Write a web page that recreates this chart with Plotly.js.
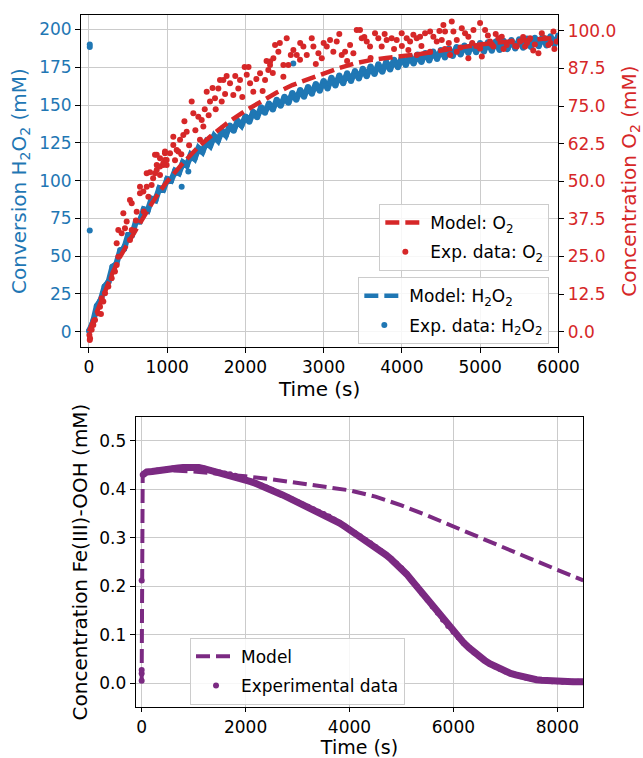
<!DOCTYPE html>
<html><head><meta charset="utf-8">
<script src="https://cdn.plot.ly/plotly-3.0.1.min.js"></script>
<style>html,body{margin:0;padding:0;background:#fff}#chart{width:643px;height:758px}</style>
</head><body><div id="chart"></div><script>
// ---------- Top panel: H2O2 conversion (left axis, mM) ----------
const h2o2ExpT = [0,50,100,150,200,250,300,350,400,450,500,550,600,650,700,750,800,850,900,950,1000,1050,1100,1150,1200,1250,1300,1350,1400,1450,1500,1550,1600,1650,1700,1750,1800,1850,1900,1950,2000,2050,2100,2150,2200,2250,2300,2350,2400,2450,2500,2550,2600,2650,2700,2750,2800,2850,2900,2950,3000,3050,3100,3150,3200,3250,3300,3350,3400,3450,3500,3550,3600,3650,3700,3750,3800,3850,3900,3950,4000,4050,4100,4150,4200,4250,4300,4350,4400,4450,4500,4550,4600,4650,4700,4750,4800,4850,4900,4950,5000,5050,5100,5150,5200,5250,5300,5350,5400,5450,5500,5550,5600,5650,5700,5750,5800,5850,5900,5950,6000];
const h2o2ExpV = [0.5,6,17,21,30,33,43,45,54,55,64,64,73,73,81,80,88,87,95,94,101,100,106.5,105,112,110,117,114.5,121.5,119,125.5,123,129.5,126.5,133,130,136.5,133,139.5,136.5,142.5,139,145.5,142,148.5,145,151,147,153.5,149.5,155.5,151.5,158,153.5,160,155.5,162,157.5,164,159.5,166,161,168,163,169.5,164.5,171,166,172.5,167.5,174,169,175.5,170.5,177,172,178.5,173.5,180,175,181.5,176.5,182.5,177.5,183.5,178.5,184.5,179.5,185.5,180.5,186.5,181.5,187.5,182.5,188.5,183.5,189.5,184.5,190.5,185,191,185.5,191.5,186,192,186.5,192.5,187,193,187.5,193.5,188,194,188.5,194.5,189,195,189.5,195.5,190,196];
// isolated H2O2 points off the main band
const h2o2OutT = [10,10,10,1185,1270,2612];
const h2o2OutV = [188.5,190,67,96,106,177.5];
const h2o2ModelT = [0,100,200,300,400,500,600,700,800,900,1000,1200,1400,1600,1800,2000,2250,2500,2750,3000,3250,3500,3750,4000,4250,4500,4750,5000,5250,5500,5750,6000];
const h2o2ModelV = [0,16,29,41,52,62,71,79,86,93,99,109.5,119,127,134,140,147,153,158,163,167,171,175,178,181,183.5,186,188,189.5,191,192.5,193.5];

// ---------- Top panel: O2 concentration (right axis, mM) ----------
const o2ExpT = [5,10,13,34,55,77,119,141,153,162,183,205,247,290,332,354,375,354,375,418,460,482,524,546,546,610,652,695,738,759,801,844,866,908,950,993,972,908,866,972,1142,844,908,972,866,950,993,1036,1078,1121,1078,1164,1206,1249,1334,1398,1441,1462,1419,1313,1505,1547,1611,1654,1697,1718,1803,1845,1909,1931,2017,2059,2101,2187,2251,2293,2315,738,652,524,439,1675,2315,2357,2379,2421,2485,2485,2528,2549,2613,2656,2698,2741,2784,2848,2869,2933,2976,3040,3082,3124,3167,3231,3274,3338,3380,3423,3465,3487,3551,3593,3657,3699,3742,3806,3870,3934,3998,4062,4083,4147,4190,4105,4190,4233,4297,4361,4361,4403,4446,4510,4531,4552,4616,4638,4659,4702,4702,4766,4808,4850,4850,4915,5000,5000,5022,5064,5128,5170,5234,5277,5341,5405,5469,5512,5576,5640,5746,5789,5831,5874,5938,5980,4550,4750,4950,5150,5300,5450,5600,5700,5900,1480,1530,1580,1620,1740,1760,1870,1960,1990,2040,2140,2220,2270,2350,2440,2580,2700,2900,3000,3200,3300,3520,3600,3780,3900,4000,4250,4480,4600,4900,5100,5200,5550,5680,5950,1220,1280,1360,1100,1180,700,600,780,820];
const o2ExpV = [-1.1,-2.8,-2.2,0.6,2.2,3.9,6.1,8.3,5.9,11.1,10,12.8,15,17.8,20,22.2,24.9,29.4,33.8,32.7,34.4,36.6,30.5,33.8,42.7,39.9,46,46.6,48.2,44.9,48.8,52.7,55.4,54.9,55.4,55.4,57.1,52.1,58.8,59.3,59.9,58.8,57.7,59.9,53.8,56,57.1,59.3,62.1,60.4,64.8,63.8,65.4,66.5,72.6,71.5,70.4,68.2,63.8,76.5,79.8,76.5,77.6,80.9,76.5,83.7,82.6,78.7,80.9,83.7,85.4,82.6,79.8,85.9,83.7,87,89.8,52.7,48.2,43.8,39.4,83.7,88.7,90.9,95.3,93.1,88.7,84.8,97.6,88.7,93.7,92,90.4,94.8,92,97.6,94.8,92.6,90.9,94.8,97,93.1,96.5,92,93.1,95.3,92.6,100.3,100.3,97.6,96.5,94.8,99.2,97.6,94.8,97,97.6,97,99.2,97.6,93.7,98.7,97.6,96.5,92,98.1,99.2,99.8,93.1,98.1,96.5,97,102,99.8,92,103.1,99.8,97,93.1,100.9,99.2,98.1,90.9,100.3,102.6,94.2,91.5,100.3,96.5,94.8,97.6,98.1,95.3,96.5,94.8,96.5,94.8,97.6,92.6,99.2,97.6,95.3,99.8,96.5,94,94.5,95,95.5,94,95,96,95.5,96,74,72,81,74,79,85,85,78,88,88,84,80,90,86,96,92,96,89,96,99,90,98,91,99,94,95,95,100,96,96,98.5,99,98,93.5,94,70,62,67,57,59,40,37,53,51];
const o2ModelT = [0,100,200,300,400,500,600,700,800,900,1000,1200,1400,1600,1800,2000,2200,2400,2600,2800,3000,3200,3400,3600,3800,4000,4250,4500,4750,5000,5250,5500,5750,6000];
const o2ModelV = [0,7,13,19.5,25,29.5,34,38,42.5,46.5,50,56,61.5,66,70,73.5,76.5,79.5,82,84,86,87.7,89.2,90.3,91,91.6,92.4,93.5,94.6,95.5,96.2,96.8,97.3,97.8];

// ---------- Bottom panel: Fe(III)-OOH ----------
const feExpT = [0,0,0,0,20,100,200,300,400,500,600,700,800,900,1000,1100,1200,1300,1400,1500,1600,1700,1800,1900,2000,2100,2200,2300,2400,2500,2600,2700,2800,2900,3000,3100,3200,3300,3400,3500,3600,3700,3800,3900,4000,4100,4200,4300,4400,4500,4600,4700,4800,4900,5000,5100,5200,5300,5400,5500,5600,5700,5800,5900,6000,6100,6200,6300,6400,6500,6600,6700,6800,6900,7000,7100,7200,7300,7400,7500,7600,7700,7800,7900,8000,8100,8200,8300,8400,8500];
const feExpV = [0.005,0.02,0.027,0.212,0.43,0.436,0.437,0.439,0.44,0.442,0.443,0.444,0.445,0.446,0.446,0.445,0.443,0.44,0.437,0.435,0.433,0.431,0.428,0.424,0.42,0.416,0.412,0.408,0.404,0.399,0.394,0.389,0.384,0.379,0.374,0.369,0.364,0.359,0.354,0.349,0.344,0.338,0.331,0.324,0.317,0.31,0.303,0.296,0.289,0.281,0.273,0.265,0.256,0.247,0.237,0.225,0.212,0.199,0.185,0.172,0.158,0.145,0.131,0.118,0.106,0.094,0.083,0.073,0.063,0.055,0.047,0.04,0.034,0.029,0.024,0.02,0.017,0.014,0.011,0.009,0.007,0.006,0.005,0.004,0.004,0.003,0.003,0.003,0.003,0.003];
const feModelT = [0,10,20,100,300,600,1000,1500,2000,2500,3000,3500,4000,4500,5000,5500,6000,6500,7000,7500,8000,8500];
const feModelV = [0,0.2,0.43,0.436,0.438,0.439,0.437,0.433,0.427,0.421,0.414,0.407,0.398,0.385,0.367,0.346,0.323,0.3,0.278,0.256,0.234,0.212];

const BLUE = '#1f77b4', RED = '#d62728', PURPLE = '#7b2a82';
const F = 'DejaVu Sans, Verdana, sans-serif';
const GRID = '#cbcbcb';
const DASH = '14px,6px';

// the continuous part of the Fe(III)-OOH record starts at its 5th sample
const feBandT = feExpT.slice(4), feBandV = feExpV.slice(4);

const traces = [
  {x: h2o2ModelT, y: h2o2ModelV, xaxis:'x', yaxis:'y', mode:'lines', name:'Model: H<sub>2</sub>O<sub>2</sub>',
   line:{color:BLUE, width:4.5, dash:DASH}, legend:'legend2', legendgroup:'a'},
  {x: h2o2ExpT, y: h2o2ExpV, xaxis:'x', yaxis:'y', mode:'lines', showlegend:false, hoverinfo:'skip',
   line:{color:BLUE, width:6}},
  {x: h2o2ExpT, y: h2o2ExpV, xaxis:'x', yaxis:'y', mode:'markers', name:'Exp. data: H<sub>2</sub>O<sub>2</sub>',
   marker:{color:BLUE, size:6}, legend:'legend2', legendgroup:'b'},
  {x: h2o2OutT, y: h2o2OutV, xaxis:'x', yaxis:'y', mode:'markers', showlegend:false,
   marker:{color:BLUE, size:6}},
  {x: o2ModelT, y: o2ModelV, xaxis:'x', yaxis:'y2', mode:'lines', name:'Model: O<sub>2</sub>',
   line:{color:RED, width:4.5, dash:DASH}, legend:'legend', legendgroup:'c'},
  {x: o2ExpT, y: o2ExpV, xaxis:'x', yaxis:'y2', mode:'markers', name:'Exp. data: O<sub>2</sub>',
   marker:{color:RED, size:6}, legend:'legend', legendgroup:'d'},
  {x: feBandT, y: feBandV, xaxis:'x2', yaxis:'y3', mode:'lines', showlegend:false, hoverinfo:'skip',
   line:{color:PURPLE, width:7}},
  {x: feModelT, y: feModelV, xaxis:'x2', yaxis:'y3', mode:'lines', name:'Model',
   line:{color:PURPLE, width:4, dash:DASH}, legend:'legend3', legendgroup:'e'},
  {x: feExpT, y: feExpV, xaxis:'x2', yaxis:'y3', mode:'markers', name:'Experimental data',
   marker:{color:PURPLE, size:6}, legend:'legend3', legendgroup:'f'}
];

const axBase = {ticks:'outside', ticklen:5, tickcolor:'#000', tickwidth:1, showline:true, linecolor:'#000', linewidth:1,
  showgrid:true, gridcolor:GRID, gridwidth:1, zeroline:false, tickfont:{family:F, size:17, color:'#000'}};

const legBase = {bgcolor:'rgba(255,255,255,0.85)', bordercolor:'#cccccc', borderwidth:1,
  font:{family:F, size:17, color:'#000'}, traceorder:'grouped', tracegroupgap:4, itemwidth:40};

const layout = {
  width:643, height:758, margin:{l:80, r:59, t:15, b:50},
  paper_bgcolor:'#fff', plot_bgcolor:'#fff', font:{family:F, size:17, color:'#000'},
  showlegend:true,
  xaxis: Object.assign({}, axBase, {domain:[0.002,0.949], anchor:'y', range:[-102,6000], tick0:0, dtick:1000, mirror:true,
    title:{text:'Time (s)', font:{family:F, size:20, color:'#000'}, standoff:2}}),
  yaxis: Object.assign({}, axBase, {domain:[0.5209,1], anchor:'x', range:[-10.1,209.6], tick0:0, dtick:25, mirror:true,
    tickfont:{family:F, size:17, color:BLUE},
    title:{text:'Conversion H<sub>2</sub>O<sub>2</sub> (mM)', font:{family:F, size:20, color:BLUE}, standoff:7}}),
  yaxis2: Object.assign({}, axBase, {overlaying:'y', side:'right', anchor:'x', range:[-5.1,105.3], tick0:0, dtick:12.5, tickformat:'.1f',
    showgrid:false, tickfont:{family:F, size:17, color:RED},
    title:{text:'Concentration O<sub>2</sub> (mM)', font:{family:F, size:20, color:RED}, standoff:14}}),
  xaxis2: Object.assign({}, axBase, {domain:[0.1105,0.9986], anchor:'y3', range:[-115,8500], tick0:0, dtick:2000, mirror:true, ticklen:4,
    title:{text:'Time (s)', font:{family:F, size:19, color:'#000'}, standoff:5}}),
  yaxis3: Object.assign({}, axBase, {domain:[0.001,0.4203], anchor:'x2', range:[-0.05,0.55], tick0:0, dtick:0.1, tickformat:'.1f', mirror:true,
    title:{text:'Concentration Fe(III)-OOH (mM)', font:{family:F, size:20, color:'#000'}, standoff:6}}),
  legend: Object.assign({}, legBase, {x:0.9312, xanchor:'right', y:0.7273, yanchor:'top'}),
  legend2: Object.assign({}, legBase, {x:0.9312, xanchor:'right', y:0.6215, yanchor:'top'}),
  legend3: Object.assign({}, legBase, {x:0.2183, xanchor:'left', y:0.1014, yanchor:'top'})
};

Plotly.newPlot('chart', traces, layout, {displayModeBar:false, staticPlot:true});
</script></body></html>
